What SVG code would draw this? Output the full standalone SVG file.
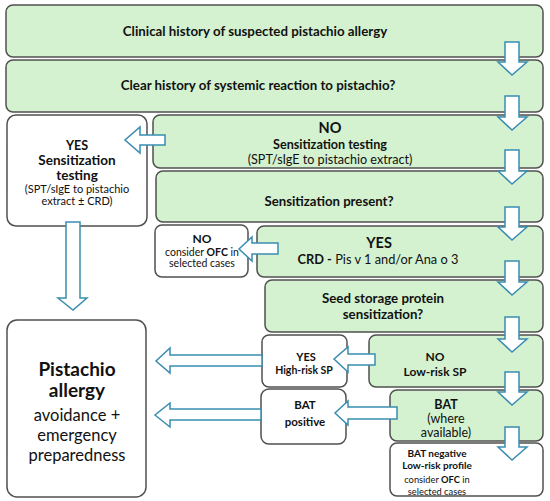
<svg xmlns="http://www.w3.org/2000/svg" width="550" height="501" viewBox="0 0 550 501">
<style>
.g{fill:#d4f1d0;stroke:#505050;stroke-width:1.5}
.w{fill:#ffffff;stroke:#505050;stroke-width:1.5}
.a{fill:#ffffff;stroke:#3a8db0;stroke-width:1.5;stroke-linejoin:miter}
text{font-family:Lato,"Liberation Sans",sans-serif;fill:#111;text-anchor:middle}
.b{font-weight:bold}
</style>
<rect width="550" height="501" fill="#ffffff"/>
<g id="n1"><rect class="g" x="6" y="5" width="537" height="52" rx="7"/><text class="b" x="255" y="36" font-size="13.3">Clinical history of suspected pistachio allergy</text></g>
<g id="n2"><rect class="g" x="6" y="60" width="537" height="52" rx="7"/><text class="b" x="258" y="90" font-size="13.3">Clear history of systemic reaction to pistachio?</text></g>
<g id="yes-sens"><rect class="w" x="7" y="115" width="140" height="111" rx="9"/>
<text class="b" x="77" y="150" font-size="12.5">YES</text>
<text class="b" x="77" y="165" font-size="13.5">Sensitization</text>
<text class="b" x="77" y="180" font-size="13.5">testing</text>
<text x="77" y="193" font-size="11">(SPT/sIgE to pistachio</text>
<text x="77" y="205" font-size="11">extract ± CRD)</text></g>
<g id="no-sens"><rect class="g" x="153" y="115" width="390" height="53" rx="7"/>
<text class="b" x="330" y="133" font-size="14.5">NO</text>
<text class="b" x="330" y="149" font-size="12.6">Sensitization testing</text>
<text x="330" y="164" font-size="12.6">(SPT/sIgE to pistachio extract)</text></g>
<g id="sens-present"><rect class="g" x="156" y="171" width="387" height="51" rx="7"/><text class="b" x="329" y="206" font-size="13.2">Sensitization present?</text></g>
<g id="no-ofc"><rect class="w" x="155" y="225" width="93" height="52" rx="7"/>
<text class="b" x="202" y="243" font-size="12">NO</text>
<text x="202" y="256" font-size="10.5">consider <tspan class="b">OFC</tspan> in</text>
<text x="202" y="267" font-size="10.5">selected cases</text></g>
<g id="yes-crd"><rect class="g" x="257" y="226" width="286" height="51" rx="7"/>
<text class="b" x="379" y="248" font-size="14.5">YES</text>
<text x="378" y="264" font-size="12.8"><tspan class="b">CRD -</tspan> Pis v 1 and/or Ana o 3</text></g>
<g id="seed"><rect class="g" x="265" y="280" width="278" height="52" rx="7"/>
<text class="b" x="383" y="303" font-size="13.3">Seed storage protein</text>
<text class="b" x="383" y="319" font-size="13.3">sensitization?</text></g>
<g id="yes-high"><rect class="w" x="262" y="335" width="85" height="52" rx="7"/>
<text class="b" x="306" y="361" font-size="11">YES</text>
<text class="b" x="304" y="374" font-size="10.5">High-risk SP</text></g>
<g id="no-low"><rect class="g" x="369" y="335" width="174" height="52" rx="7"/>
<text class="b" x="435" y="361" font-size="12">NO</text>
<text class="b" x="435" y="376" font-size="12">Low-risk SP</text></g>
<g id="bat-pos"><rect class="w" x="261" y="389" width="85" height="55" rx="8"/>
<text class="b" x="305" y="409" font-size="11.5">BAT</text>
<text class="b" x="305" y="426" font-size="11.5">positive</text></g>
<g id="bat-avail"><rect class="g" x="390" y="390" width="153" height="51" rx="7"/>
<text class="b" x="446" y="409" font-size="12.5">BAT</text>
<text x="446" y="423" font-size="12.5">(where</text>
<text x="446" y="437" font-size="12.5">available)</text></g>
<g id="bat-neg"><rect class="w" x="390" y="443" width="153" height="53" rx="7"/>
<text class="b" x="437" y="457" font-size="10">BAT negative</text>
<text class="b" x="437" y="469" font-size="10">Low-risk profile</text>
<text x="437" y="483" font-size="9.3">consider <tspan class="b">OFC</tspan> in</text>
<text x="437" y="494.5" font-size="9.3">selected cases</text></g>
<g id="pistachio"><rect class="w" x="7" y="320" width="139" height="177" rx="10"/>
<text class="b" x="77" y="376" font-size="19">Pistachio</text>
<text class="b" x="77" y="397" font-size="19">allergy</text>
<text x="77" y="421" font-size="16.5">avoidance +</text>
<text x="77" y="441" font-size="16.5">emergency</text>
<text x="77" y="461" font-size="16.5">preparedness</text></g>
<g id="connectors">
<polygon class="a" points="505,42 519,42 519,62 527,62 512,75 498,62 505,62"/>
<polygon class="a" points="505,96 519,96 519,117 527,117 512,130 498,117 505,117"/>
<polygon class="a" points="505,150 519,150 519,171 527,171 512,184 498,171 505,171"/>
<polygon class="a" points="505,207 519,207 519,227 527,227 512,240 498,227 505,227"/>
<polygon class="a" points="505,261 519,261 519,282 527,282 512,295 498,282 505,282"/>
<polygon class="a" points="505,317 519,317 519,339 527,339 512,352 498,339 505,339"/>
<polygon class="a" points="505,372 519,372 519,392 527,392 512,405 498,392 505,392"/>
<polygon class="a" points="505,427 519,427 519,447 527,447 512,460 498,447 505,447"/>
<polygon class="a" points="66,222 80,222 80,298 87,298 73,310 58,298 66,298"/>
<polygon class="a" points="165,135 140,135 140,127 125,140 140,153 140,145 165,145"/>
<polygon class="a" points="278,243 252,243 252,237 239,249 252,261 252,254 278,254"/>
<polygon class="a" points="375,354 348,354 348,347 334,359 348,372 348,365 375,365"/>
<polygon class="a" points="397,407 348,407 348,401 335,413 348,425 348,419 397,419"/>
<polygon class="a" points="262,355 170,355 170,348 156,361 170,373 170,366 262,366"/>
<polygon class="a" points="261,409 170,409 170,403 155,415 170,427 170,420 261,420"/>
</g>
</svg>
